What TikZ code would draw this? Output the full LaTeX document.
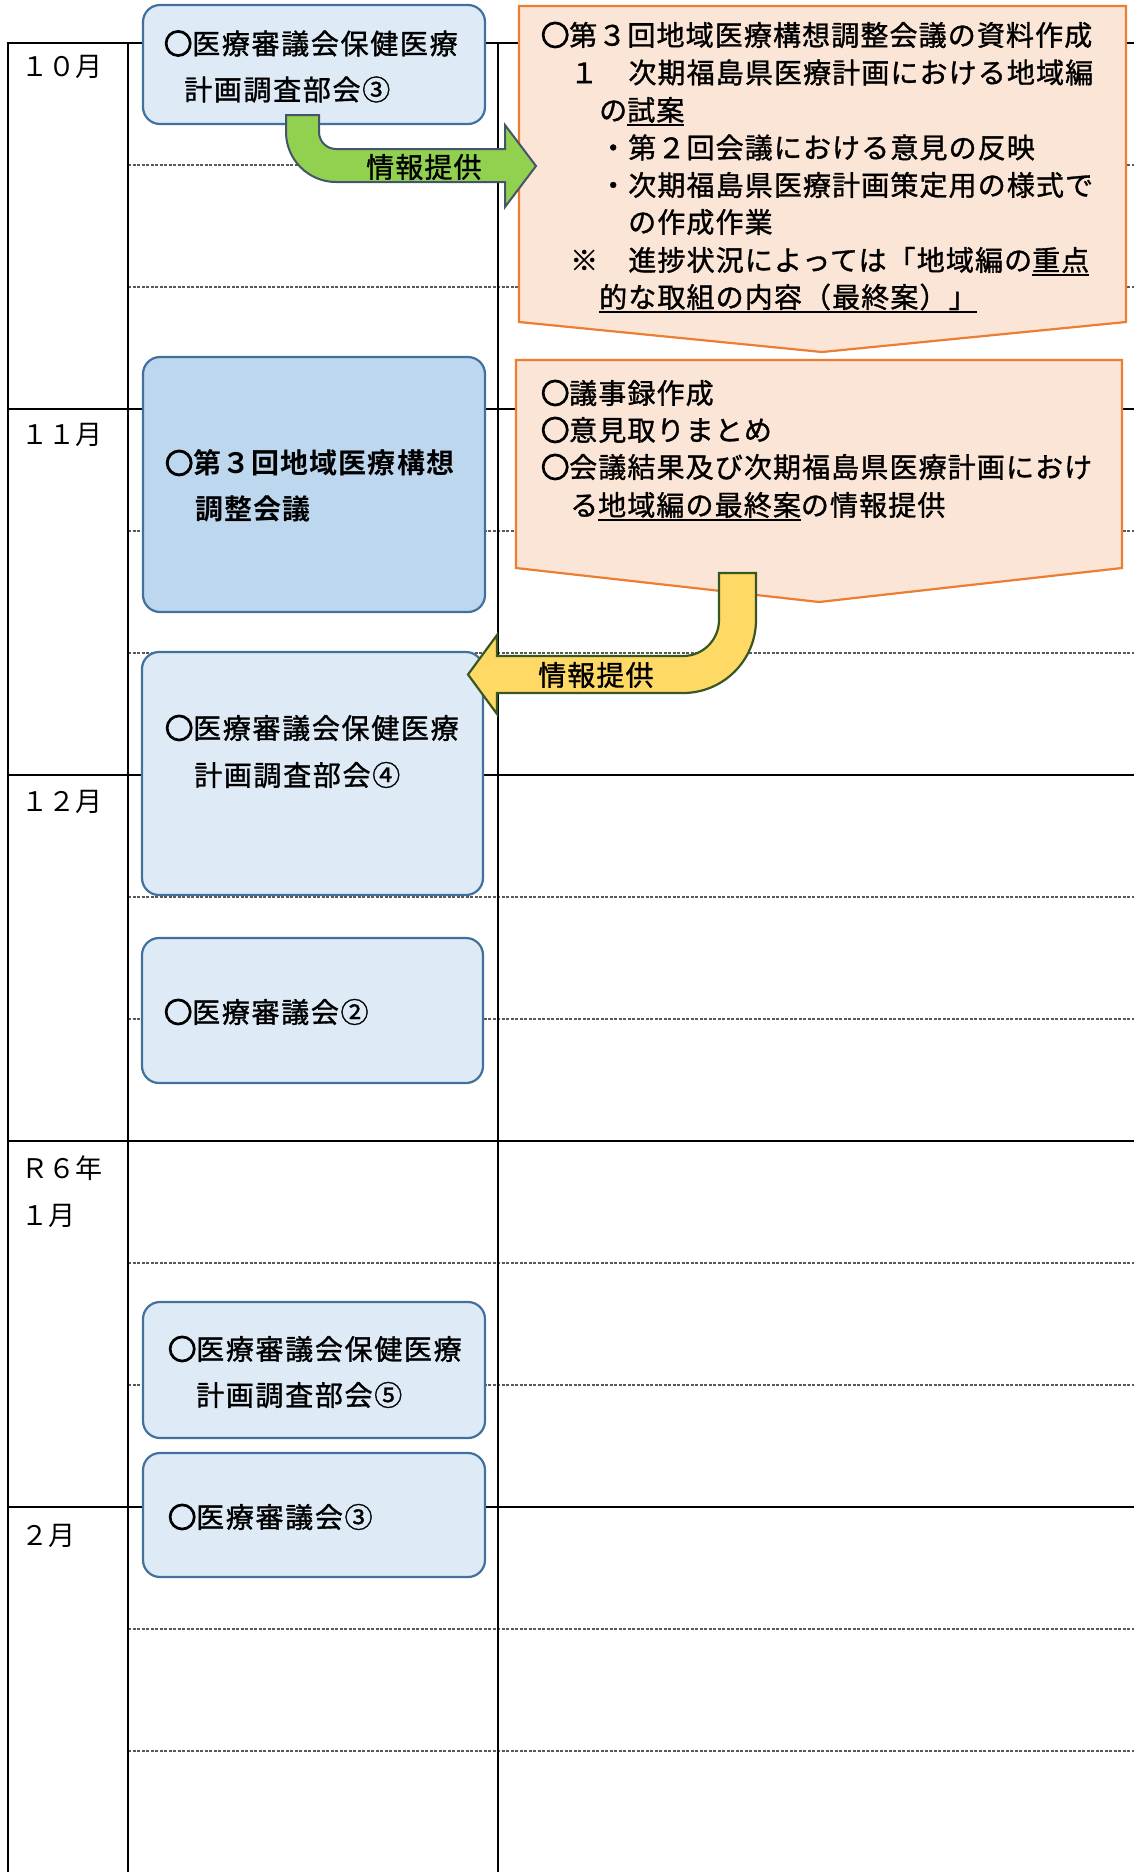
\documentclass[tikz,border=0pt]{standalone}
\usepackage{fontspec}
\newfontfamily\cjk{Noto Sans CJK JP}[LetterSpace=4,FakeBold=1.2]
\newfontfamily\cjkb{Noto Sans CJK JP Bold}[LetterSpace=4]
\newfontfamily\cjkw{Noto Sans CJK JP}[LetterSpace=6,FakeBold=1.2]
\newfontfamily\cjkm{Noto Sans CJK JP}
\newcommand\myul[1]{\setbox0=\hbox{#1}\rlap{\rule[-5.5pt]{\wd0}{1.8pt}}\box0}
\newcommand\maru{{\addfontfeature{FakeBold=6}○}}
\definecolor{lfill}{HTML}{DEEBF7}
\definecolor{dfill}{HTML}{BDD7EE}
\definecolor{bstroke}{HTML}{41719C}
\definecolor{ofill}{HTML}{FBE5D6}
\definecolor{ostroke}{HTML}{ED7D31}
\definecolor{gfill}{HTML}{92D050}
\definecolor{gstroke}{HTML}{44546A}
\definecolor{yfill}{HTML}{FFD966}
\definecolor{ystroke}{HTML}{385723}
\tikzset{
  solidline/.style={line width=2pt, draw=black},
  dashline/.style={line width=1.1pt, draw=black!65, dash pattern=on 3pt off 1.5pt},
  lbox/.style={draw=bstroke, fill=lfill, line width=2.2pt, rounded corners=17pt, inner sep=0pt},
  dbox/.style={lbox, fill=dfill},
  opent/.style={draw=ostroke, fill=ofill, line width=2.2pt, line join=miter},
  garrow/.style={draw=gstroke, fill=gfill, line width=2pt},
  yarrow/.style={draw=ystroke, fill=yfill, line width=2.2pt},
  ln/.style={anchor=west, inner sep=0pt, text height=24.6pt, text depth=3.4pt, font=\cjk\fontsize{28}{34}\selectfont},
  lnw/.style={ln, font=\cjkw\fontsize{28}{34}\selectfont},
  lnb/.style={ln, font=\cjkb\fontsize{28}{34}\selectfont},
  mon/.style={ln, font=\cjkm\fontsize{27}{32}\selectfont},
}
\begin{document}
\begin{tikzpicture}[x=1pt,y=-1pt]
\useasboundingbox (0,0) rectangle (1134,1872);
% table
\foreach \y in {165,287,531,653,897,1019,1263,1385,1629,1751}
  \draw[dashline] (128,\y) -- (1134,\y);
\foreach \y in {43,409,775,1141,1507}
  \draw[solidline] (8,\y) -- (1134,\y);
\foreach \x in {8,128,498}
  \draw[solidline] (\x,42) -- (\x,1872);
% month labels
\node[mon] (m10) at (21,66) {１０月};
\node[mon] (m11) at (21,434) {１１月};
\node[mon] (m12) at (21,801) {１２月};
\node[mon] (mr6) at (21,1168) {Ｒ６年};
\node[mon] (m01) at (21,1215) {１月};
\node[mon] (m02) at (21,1535) {２月};
% left boxes
\node[lbox, minimum width=342pt, minimum height=119pt] (b1) at (314,64.5) {};
\node[dbox, minimum width=342pt, minimum height=255pt] (b2) at (314,484.5) {};
\node[lbox, minimum width=341pt, minimum height=243pt] (b3) at (312.5,773.5) {};
\node[lbox, minimum width=341pt, minimum height=145pt] (b4) at (312.5,1010.5) {};
\node[lbox, minimum width=342pt, minimum height=136pt] (b5) at (314,1370) {};
\node[lbox, minimum width=342pt, minimum height=124pt] (b6) at (314,1515) {};
% orange boxes
\draw[opent] (519,6) -- (1126,6) -- (1126,322) -- (822,352) -- (519,322) -- cycle;
\draw[opent] (516,360) -- (1122,360) -- (1122,568) -- (819,602) -- (516,568) -- cycle;
% block arrows
\draw[garrow] (319,115) -- (319,132) arc[start angle=180,end angle=90,radius=17]
  -- (505,149) -- (505,125) -- (536,166) -- (505,207) -- (505,182) -- (336,182)
  arc[start angle=90,end angle=180,radius=50] -- (286,115) -- cycle;
\draw[yarrow] (719,573) -- (719,620) arc[start angle=0,end angle=90,radius=36]
  -- (497,656) -- (497,635) -- (468,674.5) -- (497,714) -- (497,693) -- (683,693)
  arc[start angle=90,end angle=0,radius=73] -- (756,573) -- cycle;
\node[ln] (g1) at (366,167) {情報提供};
\node[ln] (y1) at (538,675) {情報提供};
% left box texts
\node[lnw] (t1a) at (164,43.5) {\maru 医療審議会保健医療};
\node[lnw] (t1b) at (184,89.5) {計画調査部会③};
\node[lnb] (t2a) at (165,463) {\maru 第３回地域医療構想};
\node[lnb] (t2b) at (195,509) {調整会議};
\node[lnw] (t3a) at (165,728) {\maru 医療審議会保健医療};
\node[lnw] (t3b) at (194,775) {計画調査部会④};
\node[lnw] (t4a) at (164,1012) {\maru 医療審議会②};
\node[lnw] (t5a) at (168,1349) {\maru 医療審議会保健医療};
\node[lnw] (t5b) at (196,1395) {計画調査部会⑤};
\node[lnw] (t6a) at (168,1517) {\maru 医療審議会③};
% orange box 1 texts
\node[ln] (o1) at (541,35) {\maru 第３回地域医療構想調整会議の資料作成};
\node[ln] (o2) at (570,72.5) {１　次期福島県医療計画における地域編};
\node[ln] (o3) at (599,110) {の\myul{試案}};
\node[ln] (o4) at (599,147.5) {・第２回会議における意見の反映};
\node[ln] (o5) at (599,185) {・次期福島県医療計画策定用の様式で};
\node[ln] (o6) at (628,222) {の作成作業};
\node[ln] (o7) at (570,260) {※　進捗状況によっては「地域編の\myul{重点}};
\node[ln] (o8) at (599,297) {\myul{的な取組の内容（最終案）」}};
% orange box 2 texts
\node[ln] (p1) at (541,393) {\maru 議事録作成};
\node[ln] (p2) at (541,430) {\maru 意見取りまとめ};
\node[ln] (p3) at (541,467) {\maru 会議結果及び次期福島県医療計画におけ};
\node[ln] (p4) at (570,505) {る\myul{地域編の最終案}の情報提供};
\end{tikzpicture}
\end{document}
